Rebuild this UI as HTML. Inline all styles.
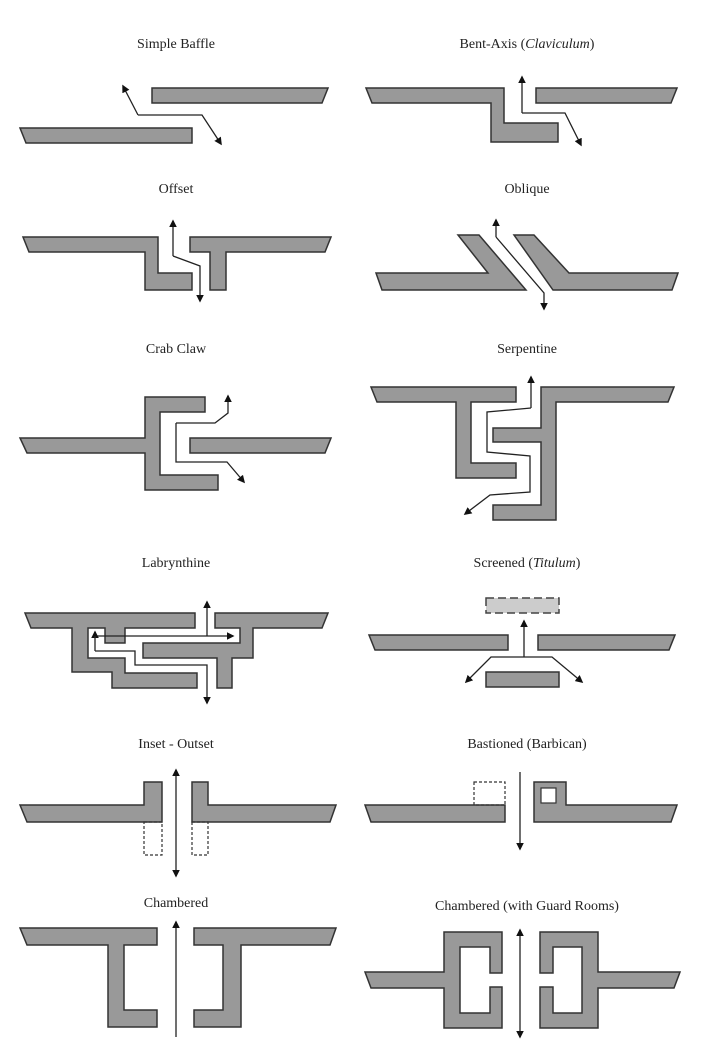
<!DOCTYPE html>
<html><head><meta charset="utf-8"><style>
html,body{margin:0;padding:0;background:#fff;}
svg{display:block;}
text{font-family:"Liberation Serif",serif;font-size:14px;fill:#222;text-anchor:middle;}
.w{fill:#999;stroke:#333;stroke-width:1.5;stroke-linejoin:miter;}
.d{fill:none;stroke:#333;stroke-width:1.2;stroke-dasharray:3,2;}
.a{fill:none;stroke:#222;stroke-width:1.3;}
</style></head><body>
<svg width="702" height="1056" viewBox="0 0 702 1056" xmlns="http://www.w3.org/2000/svg">
<defs>
<marker id="m" viewBox="0 0 10 10" refX="8" refY="5" markerWidth="6" markerHeight="6" orient="auto-start-reverse"><path d="M0,0 L10,5 L0,10 z" fill="#111"/></marker>
</defs>

<!-- Simple Baffle -->
<text x="176" y="48">Simple Baffle</text>
<polygon class="w" points="152,88 328,88 322,103 152,103"/>
<polygon class="w" points="20,128 192,128 192,143 26,143"/>
<polyline class="a" points="138,115 123,86" marker-end="url(#m)"/>
<polyline class="a" points="138,115 202,115 221,144" marker-end="url(#m)"/>

<!-- Bent-Axis -->
<text x="527" y="48">Bent-Axis (<tspan font-style="italic">Claviculum</tspan>)</text>
<polygon class="w" points="366,88 504,88 504,123 558,123 558,142 491,142 491,103 372,103"/>
<polygon class="w" points="536,88 677,88 671,103 536,103"/>
<polyline class="a" points="522,113 522,77" marker-end="url(#m)"/>
<polyline class="a" points="522,113 565,113 581,145" marker-end="url(#m)"/>

<!-- Offset -->
<text x="176" y="193">Offset</text>
<polygon class="w" points="23,237 158,237 158,273 192,273 192,290 145,290 145,252 29,252"/>
<polygon class="w" points="190,237 331,237 325,252 226,252 226,290 210,290 210,252 190,252"/>
<polyline class="a" points="173,256 173,221" marker-end="url(#m)"/>
<polyline class="a" points="173,256 200,266 200,301" marker-end="url(#m)"/>

<!-- Oblique -->
<text x="527" y="193">Oblique</text>
<polygon class="w" points="376,273 488,273 458,235 479,235 526,290 382,290"/>
<polygon class="w" points="514,235 534,235 569,273 678,273 672,290 553,290"/>
<polyline class="a" points="496,237 496,220" marker-end="url(#m)"/>
<polyline class="a" points="496,237 544,293 544,309" marker-end="url(#m)"/>

<!-- Crab Claw -->
<text x="176" y="353">Crab Claw</text>
<polygon class="w" points="20,438 145,438 145,397 205,397 205,412 160,412 160,475 218,475 218,490 145,490 145,453 27,453"/>
<polygon class="w" points="190,438 331,438 325,453 190,453"/>
<polyline class="a" points="176,423 215,423 228,413 228,396" marker-end="url(#m)"/>
<polyline class="a" points="176,423 176,462 227,462 244,482" marker-end="url(#m)"/>

<!-- Serpentine -->
<text x="527" y="353">Serpentine</text>
<polygon class="w" points="371,387 516,387 516,402 471,402 471,463 516,463 516,478 456,478 456,402 377,402"/>
<polygon class="w" points="541,387 674,387 668,402 556,402 556,520 493,520 493,505 541,505 541,442 493,442 493,428 541,428"/>
<polyline class="a" points="531,408 531,377" marker-end="url(#m)"/>
<polyline class="a" points="531,408 487,412 487,452 530,456 530,492 490,495 465,514" marker-end="url(#m)"/>

<!-- Labrynthine -->
<text x="176" y="567">Labrynthine</text>
<polygon class="w" points="25,613 195,613 195,628 125,628 125,643 105,643 105,628 88,628 88,658 125,658 125,673 197,673 197,688 112,688 112,672 72,672 72,628 31,628"/>
<polygon class="w" points="215,613 328,613 322,628 253,628 253,658 232,658 232,688 217,688 217,658 143,658 143,643 240,643 240,628 215,628"/>
<polyline class="a" points="207,636 207,602" marker-end="url(#m)"/>
<polyline class="a" points="95,632 95,636 233,636" marker-end="url(#m)" marker-start="url(#m)"/>
<polyline class="a" points="95,651 135,651 135,665 207,665 207,703" marker-end="url(#m)"/>
<line class="a" x1="95" y1="636" x2="95" y2="651"/>

<!-- Screened -->
<text x="527" y="567">Screened (<tspan font-style="italic">Titulum</tspan>)</text>
<rect x="486" y="598" width="73" height="15" fill="#ccc" stroke="#444" stroke-width="1.5" stroke-dasharray="8,4"/>
<polygon class="w" points="369,635 508,635 508,650 375,650"/>
<polygon class="w" points="538,635 675,635 669,650 538,650"/>
<rect class="w" x="486" y="672" width="73" height="15"/>
<polyline class="a" points="524,657 524,621" marker-end="url(#m)"/>
<polyline class="a" points="524,657 491,657 466,682" marker-end="url(#m)"/>
<polyline class="a" points="524,657 552,657 582,682" marker-end="url(#m)"/>

<!-- Inset - Outset -->
<text x="176" y="748">Inset - Outset</text>
<polygon class="w" points="20,805 144,805 144,782 162,782 162,822 27,822"/>
<polygon class="w" points="192,782 208,782 208,805 336,805 330,822 192,822"/>
<rect class="d" x="144" y="822" width="18" height="33"/>
<rect class="d" x="192" y="822" width="16" height="33"/>
<line class="a" x1="176" y1="822" x2="176" y2="770" marker-end="url(#m)"/>
<line class="a" x1="176" y1="822" x2="176" y2="876" marker-end="url(#m)"/>

<!-- Bastioned -->
<text x="527" y="748">Bastioned (Barbican)</text>
<polygon class="w" points="365,805 505,805 505,822 371,822"/>
<rect class="d" x="474" y="782" width="31" height="23"/>
<polygon class="w" points="534,782 566,782 566,805 677,805 671,822 534,822"/>
<rect x="541" y="788" width="15" height="15" fill="#fff" stroke="#333" stroke-width="1.2"/>
<line class="a" x1="520" y1="772" x2="520" y2="849" marker-end="url(#m)"/>

<!-- Chambered -->
<text x="176" y="907">Chambered</text>
<polygon class="w" points="20,928 157,928 157,945 124,945 124,1010 157,1010 157,1027 108,1027 108,945 27,945"/>
<polygon class="w" points="194,928 336,928 330,945 241,945 241,1027 194,1027 194,1010 223,1010 223,945 194,945"/>
<line class="a" x1="176" y1="1037" x2="176" y2="922" marker-end="url(#m)"/>

<!-- Chambered with Guard Rooms -->
<text x="527" y="910">Chambered (with Guard Rooms)</text>
<polygon class="w" points="365,972 444,972 444,932 502,932 502,973 490,973 490,947 460,947 460,1013 490,1013 490,987 502,987 502,1028 444,1028 444,988 371,988"/>
<polygon class="w" points="540,932 598,932 598,972 680,972 674,988 598,988 598,1028 540,1028 540,987 553,987 553,1013 582,1013 582,947 553,947 553,973 540,973"/>
<line class="a" x1="520" y1="980" x2="520" y2="930" marker-end="url(#m)"/>
<line class="a" x1="520" y1="980" x2="520" y2="1037" marker-end="url(#m)"/>
</svg>
</body></html>
